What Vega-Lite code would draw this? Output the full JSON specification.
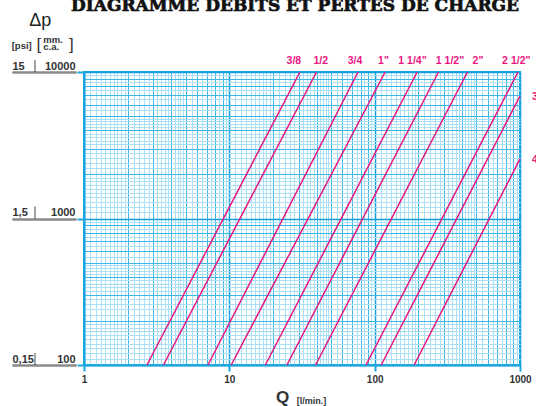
{
  "$schema": "https://vega.github.io/schema/vega-lite/v6.json",
  "width": 436,
  "height": 293,
  "autosize": "none",
  "padding": {"left": 84, "top": 72, "right": 16, "bottom": 41},
  "background": "white",
  "view": {"stroke": "#1aa7e0", "strokeWidth": 2},
  "config": {"font": "Liberation Sans"},
  "resolve": {"axis": {"x": "independent", "y": "independent"}},
  "layer": [
    {
      "data": {"values": [
        {"size": "3/8", "Q": 2.71, "dp": 100}, {"size": "3/8", "Q": 30.6, "dp": 10000},
        {"size": "1/2", "Q": 3.52, "dp": 100}, {"size": "1/2", "Q": 39.8, "dp": 10000},
        {"size": "3/4", "Q": 7.13, "dp": 100}, {"size": "3/4", "Q": 76.8, "dp": 10000},
        {"size": "1\"", "Q": 10.3, "dp": 100}, {"size": "1\"", "Q": 118, "dp": 10000},
        {"size": "1 1/4\"", "Q": 17.7, "dp": 100}, {"size": "1 1/4\"", "Q": 196, "dp": 10000},
        {"size": "1 1/2\"", "Q": 24.9, "dp": 100}, {"size": "1 1/2\"", "Q": 275, "dp": 10000},
        {"size": "2\"", "Q": 39.2, "dp": 100}, {"size": "2\"", "Q": 435, "dp": 10000},
        {"size": "2 1/2\"", "Q": 87.2, "dp": 100}, {"size": "2 1/2\"", "Q": 969, "dp": 10000},
        {"size": "3\"", "Q": 111, "dp": 100}, {"size": "3\"", "Q": 1000, "dp": 6860},
        {"size": "4\"", "Q": 187, "dp": 100}, {"size": "4\"", "Q": 1000, "dp": 2550}
      ]},
      "mark": {"type": "line", "color": "#e8177f", "strokeWidth": 1.5},
      "encoding": {
        "x": {
          "field": "Q", "type": "quantitative",
          "scale": {"type": "log", "domain": [1, 1000]},
          "axis": {
            "orient": "bottom",
            "values": [1,1.1,1.2,1.3,1.4,1.5,1.6,1.7,1.8,1.9,2,2.2,2.4,2.6,2.8,3,3.2,3.4,3.6,3.8,4,4.2,4.4,4.6,4.8,5,5.5,6,6.5,7,7.5,8,8.5,9,9.5,10,11,12,13,14,15,16,17,18,19,20,22,24,26,28,30,32,34,36,38,40,42,44,46,48,50,55,60,65,70,75,80,85,90,95,100,110,120,130,140,150,160,170,180,190,200,220,240,260,280,300,320,340,360,380,400,420,440,460,480,500,550,600,650,700,750,800,850,900,950,1000],
            "grid": true,
            "gridColor": {"condition": [
              {"test": "indexof([1,10,100,1000], datum.value) >= 0", "value": "#139fdb"},
              {"test": "indexof([2,3,4,5,6,7,8,9,20,30,40,50,60,70,80,90,200,300,400,500,600,700,800,900], datum.value) >= 0", "value": "#3cb8e8"}
            ], "value": "#aadff5"},
            "gridWidth": {"condition": {"test": "indexof([1,10,100,1000], datum.value) >= 0", "value": 1.5}, "value": 1},
            "domain": true, "domainColor": "#1aa7e0", "domainWidth": 2,
            "ticks": true, "tickColor": "#1aa7e0", "tickWidth": 2, "tickSize": 6,
            "tickOpacity": {"condition": {"test": "indexof([1,10,100,1000], datum.value) >= 0", "value": 1}, "value": 0},
            "labelExpr": "indexof([1,10,100,1000], datum.value) >= 0 ? '' + datum.value : ''",
            "labelOverlap": false, "labelFlush": false, "labelBound": false,
            "labelFont": "Liberation Sans", "labelFontWeight": "bold", "labelFontSize": 10, "labelColor": "#333", "labelPadding": 3,
            "title": "Q", "titleFont": "Liberation Sans", "titleFontSize": 17, "titleFontWeight": "bold", "titleColor": "#333",
            "titleX": 198, "titleY": 37, "titleBaseline": "alphabetic", "titleAlign": "center"
          }
        },
        "y": {
          "field": "dp", "type": "quantitative",
          "scale": {"type": "log", "domain": [100, 10000]},
          "axis": {
            "orient": "left",
            "values": [100,110,120,130,140,150,160,170,180,190,200,220,240,260,280,300,320,340,360,380,400,420,440,460,480,500,550,600,650,700,750,800,850,900,950,1000,1100,1200,1300,1400,1500,1600,1700,1800,1900,2000,2200,2400,2600,2800,3000,3200,3400,3600,3800,4000,4200,4400,4600,4800,5000,5500,6000,6500,7000,7500,8000,8500,9000,9500,10000],
            "grid": true,
            "gridColor": {"condition": [
              {"test": "indexof([100,1000,10000], datum.value) >= 0", "value": "#139fdb"},
              {"test": "indexof([200,300,400,500,600,700,800,900,2000,3000,4000,5000,6000,7000,8000,9000], datum.value) >= 0", "value": "#3cb8e8"}
            ], "value": "#aadff5"},
            "gridWidth": {"condition": {"test": "indexof([100,1000,10000], datum.value) >= 0", "value": 1.5}, "value": 1},
            "domain": true, "domainColor": "#1aa7e0", "domainWidth": 2,
            "ticks": true, "tickColor": "#1aa7e0", "tickWidth": 2, "tickSize": 7,
            "tickOpacity": {"condition": {"test": "indexof([100,1000,10000], datum.value) >= 0", "value": 1}, "value": 0},
            "labels": false,
            "title": null
          }
        },
        "detail": {"field": "size"}
      }
    },
    {
      "data": {"values": [
        {"label": "3/8", "Q": 27.8, "dp": 11340},
        {"label": "1/2", "Q": 42.6, "dp": 11340},
        {"label": "3/4", "Q": 73.2, "dp": 11340},
        {"label": "1\"", "Q": 115, "dp": 11340},
        {"label": "1 1/4\"", "Q": 182, "dp": 11340},
        {"label": "1 1/2\"", "Q": 330, "dp": 11340},
        {"label": "2\"", "Q": 514, "dp": 11340},
        {"label": "2 1/2\"", "Q": 943, "dp": 11340},
        {"label": "3\"", "Q": 1317, "dp": 6480},
        {"label": "4\"", "Q": 1317, "dp": 2407}
      ]},
      "mark": {"type": "text", "font": "Liberation Sans", "fontWeight": "bold", "fontSize": 10.5, "color": "#e8177f", "align": "center", "baseline": "alphabetic"},
      "encoding": {
        "x": {
          "field": "Q", "type": "quantitative",
          "scale": {"type": "log", "domain": [1, 1000]},
          "axis": {
            "orient": "bottom", "labels": false, "ticks": false, "domain": false, "grid": false,
            "title": "[l/min.]", "titleFont": "Liberation Sans", "titleFontSize": 9, "titleFontWeight": "bold", "titleColor": "#333",
            "titleX": 227, "titleY": 38, "titleBaseline": "alphabetic", "titleAlign": "center"
          }
        },
        "y": {
          "field": "dp", "type": "quantitative",
          "scale": {"type": "log", "domain": [100, 10000]},
          "axis": {
            "orient": "left", "offset": 8, "values": [100, 1000, 10000],
            "grid": false, "domain": false,
            "ticks": true, "tickSize": 64, "tickColor": "#8a8a8a", "tickWidth": 2,
            "labelExpr": "'' + datum.value",
            "labelAlign": "right", "labelBaseline": "alphabetic", "labelPadding": -63, "labelOffset": -3,
            "labelFont": "Liberation Sans", "labelFontWeight": "bold", "labelFontSize": 11, "labelColor": "#333",
            "labelOverlap": false, "labelFlush": false, "labelBound": false,
            "title": null
          }
        },
        "text": {"field": "label"}
      }
    },
    {
      "data": {"values": [{"Q": 0.46, "dp": 100}, {"Q": 0.46, "dp": 1000}, {"Q": 0.46, "dp": 10000}]},
      "mark": {"type": "tick", "orient": "vertical", "color": "#222", "size": 12, "thickness": 1.2, "yOffset": -6},
      "encoding": {
        "x": {"field": "Q", "type": "quantitative", "scale": {"type": "log", "domain": [1, 1000]}, "axis": null},
        "y": {
          "field": "dp", "type": "quantitative",
          "scale": {"type": "log", "domain": [100, 10000]},
          "axis": {
            "orient": "left", "offset": 8, "values": [100, 1000, 10000],
            "grid": false, "domain": false,
            "ticks": true, "tickSize": 64, "tickColor": "#8a8a8a", "tickWidth": 2,
            "labelExpr": "datum.value == 10000 ? '15' : datum.value == 1000 ? '1,5' : '0,15'",
            "labelAlign": "left", "labelBaseline": "alphabetic", "labelPadding": 0, "labelOffset": -3,
            "labelFont": "Liberation Sans", "labelFontWeight": "bold", "labelFontSize": 11, "labelColor": "#333",
            "labelOverlap": false, "labelFlush": false, "labelBound": false,
            "title": null
          }
        }
      }
    },
    {
      "data": {"values": [{"t": "DIAGRAMME DEBITS ET PERTES DE CHARGE", "Q": 28.3, "dp": 25900}]},
      "mark": {"type": "text", "font": "DejaVu Serif", "fontWeight": "bold", "fontSize": 17, "color": "#111", "stroke": "#111", "strokeWidth": 0.7, "align": "center", "baseline": "alphabetic"},
      "encoding": {
        "x": {"field": "Q", "type": "quantitative", "scale": {"type": "log", "domain": [1, 1000]}, "axis": null},
        "y": {"field": "dp", "type": "quantitative", "scale": {"type": "log", "domain": [100, 10000]}, "axis": null},
        "text": {"field": "t"}
      }
    },
    {
      "data": {"values": [{"t": "Δp", "Q": 0.5, "dp": 20600}]},
      "mark": {"type": "text", "font": "Liberation Sans", "fontSize": 18, "color": "#222", "align": "center", "baseline": "alphabetic"},
      "encoding": {
        "x": {"field": "Q", "type": "quantitative", "scale": {"type": "log", "domain": [1, 1000]}, "axis": null},
        "y": {"field": "dp", "type": "quantitative", "scale": {"type": "log", "domain": [100, 10000]}, "axis": null},
        "text": {"field": "t"}
      }
    },
    {
      "data": {"values": [
        {"t": "[psi]", "Q": 0.318, "dp": 14290},
        {"t": "mm.", "Q": 0.524, "dp": 15700},
        {"t": "c.a.", "Q": 0.524, "dp": 14130}
      ]},
      "mark": {"type": "text", "font": "Liberation Sans", "fontWeight": "bold", "fontSize": 9.5, "color": "#333", "align": "left", "baseline": "alphabetic"},
      "encoding": {
        "x": {"field": "Q", "type": "quantitative", "scale": {"type": "log", "domain": [1, 1000]}, "axis": null},
        "y": {"field": "dp", "type": "quantitative", "scale": {"type": "log", "domain": [100, 10000]}, "axis": null},
        "text": {"field": "t"}
      }
    },
    {
      "data": {"values": [
        {"t": "[", "Q": 0.49, "dp": 14200},
        {"t": "]", "Q": 0.82, "dp": 14200}
      ]},
      "mark": {"type": "text", "font": "Liberation Sans", "fontSize": 17, "color": "#333", "align": "center", "baseline": "alphabetic"},
      "encoding": {
        "x": {"field": "Q", "type": "quantitative", "scale": {"type": "log", "domain": [1, 1000]}, "axis": null},
        "y": {"field": "dp", "type": "quantitative", "scale": {"type": "log", "domain": [100, 10000]}, "axis": null},
        "text": {"field": "t"}
      }
    }
  ]
}
